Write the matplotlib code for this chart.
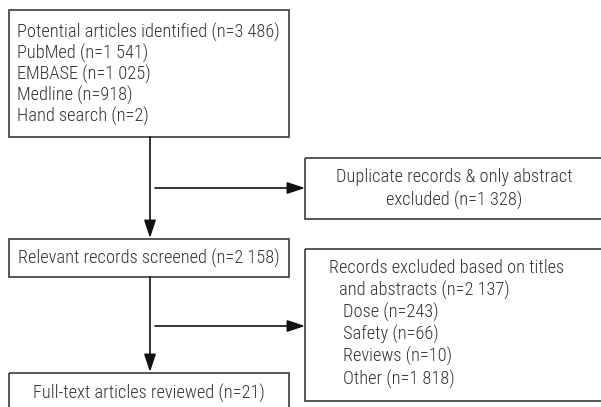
import matplotlib
matplotlib.use("Agg")
import matplotlib.pyplot as plt
from matplotlib.patches import Rectangle
from matplotlib import font_manager

names = {f.name for f in font_manager.fontManager.ttflist}
FONT = next((n for n in ["Roboto Condensed", "Archivo Narrow", "PT Sans Narrow",
                         "Liberation Sans Narrow"] if n in names), "DejaVu Sans")

# ---- content ----
identified_lines = ["Potential articles identified (n=3 486)",
                    "PubMed (n=1 541)",
                    "EMBASE (n=1 025)",
                    "Medline (n=918)",
                    "Hand search (n=2)"]
duplicate_lines = ["Duplicate records & only abstract",
                   "excluded (n=1 328)"]
screened_text = "Relevant records screened (n=2 158)"
excluded_lines = ["Records excluded based on titles",
                  "and abstracts (n=2 137)",
                  "Dose (n=243)",
                  "Safety (n=66)",
                  "Reviews (n=10)",
                  "Other (n=1 818)"]
fulltext_text = "Full-text articles reviewed (n=21)"

W, H = 601, 407
fig = plt.figure(figsize=(W / 100, H / 100), dpi=100)
ax = fig.add_axes([0, 0, 1, 1])
ax.set_xlim(0, W)
ax.set_ylim(H, 0)
ax.axis("off")

EDGE = "#4a4a4a"
TXT = "#333333"
FS = 13.2

def box(x0, y0, x1, y1):
    ax.add_patch(Rectangle((x0, y0), x1 - x0, y1 - y0, fill=False,
                           edgecolor=EDGE, linewidth=1.3, clip_on=True))

def arrow(x0, y0, x1, y1):
    ax.annotate("", xy=(x1, y1), xytext=(x0, y0),
                arrowprops=dict(arrowstyle="-|>,head_length=0.9,head_width=0.3",
                                color="#111111", lw=1.2, shrinkA=0, shrinkB=0,
                                mutation_scale=12))

def label(x, y, t, ha):
    ax.text(x, y, t, fontsize=FS, family=FONT, weight="light", color=TXT,
            ha=ha, va="center")

# Box 1
box(9, 10, 289, 137)
for i, t in enumerate(identified_lines):
    label(17, 32 + i * 21, t, "left")

# Duplicate box
box(305, 158, 603, 219)
for i, t in enumerate(duplicate_lines):
    label(454, 177 + i * 23, t, "center")

# Screened box
box(9, 239, 289, 277)
label(149, 258, screened_text, "center")

# Excluded box
box(305, 249, 603, 401)
ex_x = [329, 339, 343, 343, 343, 343]
for i, t in enumerate(excluded_lines):
    label(ex_x[i], 268 + i * 22.2, t, "left")

# Full-text box (bottom cut off)
box(9, 373, 289, 420)
label(149, 393, fulltext_text, "center")

# Arrows
arrow(150, 137, 150, 238)
arrow(155, 188, 305, 188)
arrow(150, 277, 150, 372)
arrow(155, 326, 305, 326)

fig.savefig("out.png", dpi=100)
